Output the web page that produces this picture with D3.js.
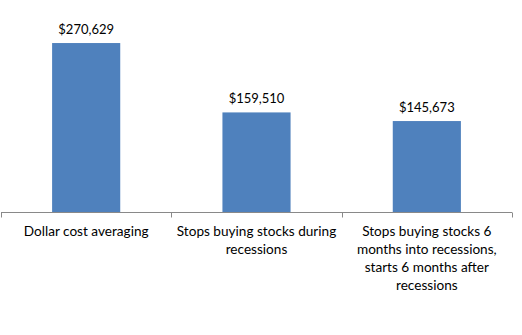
<!DOCTYPE html>
<html><head><meta charset="utf-8">
<script src="https://cdn.jsdelivr.net/npm/d3@7"></script>
<style>body{margin:0;background:#fff}svg{display:block}text{font-family:Lato,"Open Sans",sans-serif;fill:#000}</style>
</head><body><svg id="c" width="522" height="335"></svg>
<script>
const categories = ["Dollar cost averaging", "Stops buying stocks during\nrecessions", "Stops buying stocks 6\nmonths into recessions,\nstarts 6 months after\nrecessions"];
const values = [270629, 159510, 145673];
const yDomain = [0, 300000];

const svg = d3.select("#c");
const x = d3.scaleBand().domain(d3.range(categories.length)).range([1, 512]).paddingInner(0).paddingOuter(0);
const y = d3.scaleLinear().domain(yDomain).range([212, 24.7]);
const bw = x.bandwidth() / 2.5;

svg.selectAll("rect.bar").data(values).join("rect")
  .attr("x", (d, i) => x(i) + (x.bandwidth() - bw) / 2)
  .attr("y", d => y(d)).attr("width", bw).attr("height", d => y(0) - y(d))
  .attr("fill", "#4F81BD");

svg.selectAll("text.val").data(values).join("text")
  .attr("class", "val")
  .attr("x", (d, i) => x(i) + x.bandwidth() / 2)
  .attr("y", d => y(d) - 9.5)
  .attr("text-anchor", "middle").attr("font-size", "13px")
  .text(d => "$" + d3.format(",")(d));

const g = svg.append("g").attr("transform", "translate(0,212.5)");
g.append("line").attr("x1", 1).attr("x2", 512).attr("stroke", "#898989");
const bounds = d3.range(categories.length + 1).map(i => i < categories.length ? x(i) : x(i - 1) + x.bandwidth());
g.selectAll("line.tk").data(bounds).join("line")
  .attr("x1", d => Math.round(d) + 0.5).attr("x2", d => Math.round(d) + 0.5)
  .attr("y1", 0).attr("y2", 5).attr("stroke", "#898989");

categories.forEach((c, i) => {
  const t = svg.append("text").attr("text-anchor", "middle").attr("font-size", "13.6px");
  c.split("\n").forEach((ln, j) => {
    t.append("tspan").attr("x", x(i) + x.bandwidth() / 2).attr("y", 236 + j * 18).text(ln);
  });
});
</script></body></html>
